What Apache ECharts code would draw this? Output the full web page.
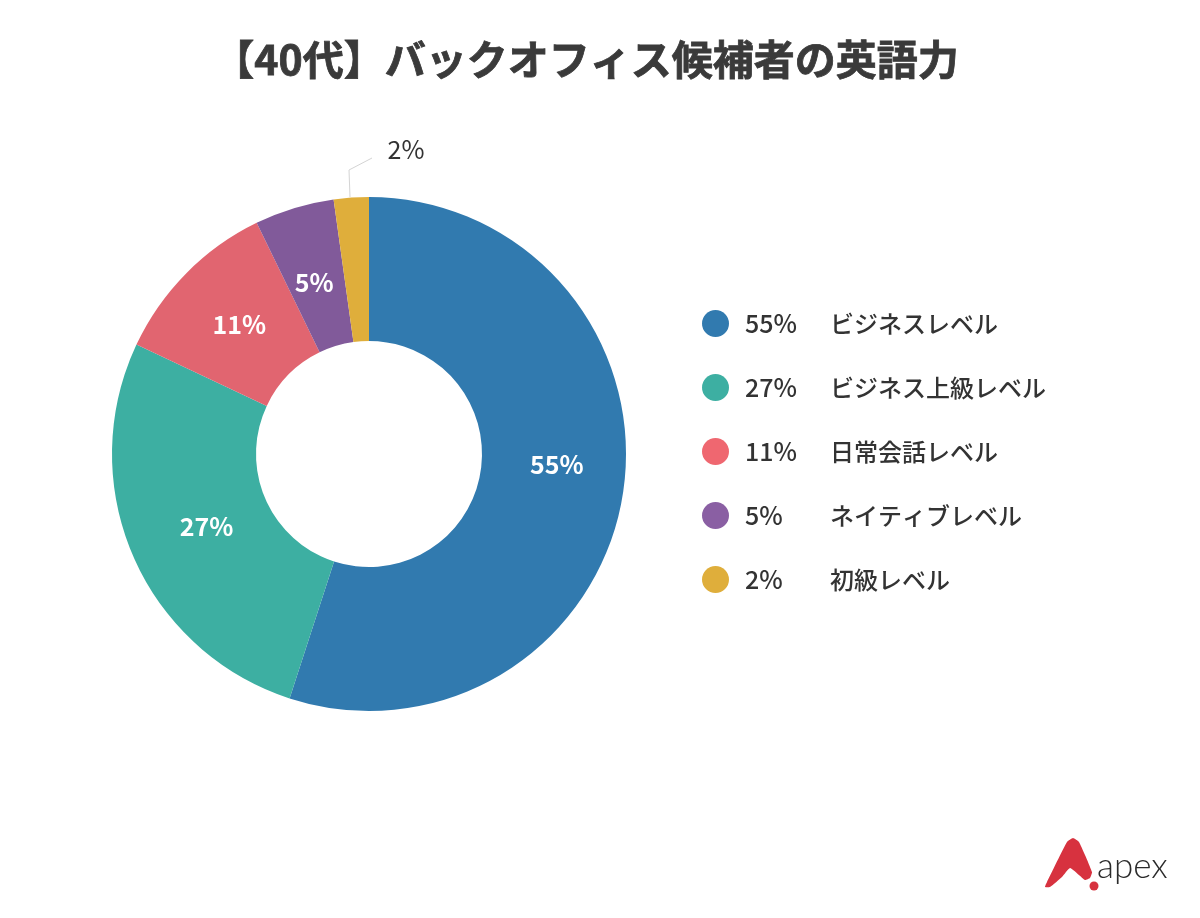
<!DOCTYPE html>
<html>
<head>
<meta charset="utf-8">
<script src="https://cdn.jsdelivr.net/npm/echarts@6/dist/echarts.min.js"></script>
<style>
  html, body { margin: 0; padding: 0; background: #fff; }
  #chart { width: 1200px; height: 918px; }
</style>
</head>
<body>
<div id="chart"></div>
<script>
const titleText = '【40代】バックオフィス候補者の英語力';
const levels = ['ビジネスレベル', 'ビジネス上級レベル', '日常会話レベル', 'ネイティブレベル', '初級レベル'];
// slice sizes as measured on the picture, printed rounded
const shares = [55, 27, 10.8, 5, 2.2];
const sliceColors = ['#317AAF', '#3DAFA2', '#E16570', '#815A9A', '#DFAE3B'];
const legendColors = ['#317AAF', '#3DAFA2', '#EF6770', '#8A5FA3', '#DFAE3B'];

const fontFamily = '"Noto Sans CJK JP", "Noto Sans", sans-serif';
const chart = echarts.init(document.getElementById('chart'));

const option = {
  animation: false,
  backgroundColor: '#fff',
  textStyle: { fontFamily: fontFamily },
  title: {
    text: titleText,
    left: 581,
    top: 34,
    textAlign: 'center',
    textStyle: {
      fontFamily: fontFamily, fontSize: 41, fontWeight: 'bold', color: '#3a3a3a',
      textBorderColor: '#3a3a3a', textBorderWidth: 0.8
    }
  },
  legend: {
    orient: 'vertical',
    left: 697,
    top: 305,
    icon: 'circle',
    itemWidth: 27,
    itemHeight: 27,
    itemGap: 37,
    selectedMode: false,
    data: levels.map((name, i) => ({ name: name, itemStyle: { color: legendColors[i] } })),
    formatter: function (name) {
      return '{pct|' + Math.round(shares[levels.indexOf(name)]) + '%}{name|' + name + '}';
    },
    textStyle: {
      rich: {
        pct: { width: 85, padding: [0, 0, 0, 11], fontSize: 25, fontWeight: 500, color: '#333', fontFamily: fontFamily, lineHeight: 27 },
        name: { fontSize: 24, fontWeight: 500, color: '#333', fontFamily: fontFamily, lineHeight: 27 }
      }
    }
  },
  series: [
    {
      type: 'pie',
      center: [369, 454],
      radius: [113, 257],
      startAngle: 90,
      clockwise: true,
      minAngle: 0,
      avoidLabelOverlap: false,
      legendHoverLink: false,
      data: levels.map((name, i) => ({
        name: name,
        value: shares[i],
        itemStyle: { color: sliceColors[i] },
        label: i === 4
          ? { position: 'outside', color: '#333', fontWeight: 400, fontSize: 25 }
          : { position: 'inside', color: '#fff', fontWeight: 'bold', fontSize: 25 },
        labelLine: i === 4
          ? { show: true, length: 27, length2: 25, lineStyle: { color: '#d4d4d4', width: 1 } }
          : { show: false }
      })),
      label: {
        formatter: function (params) {
          return Math.round(params.value) + '%';
        },
        fontFamily: fontFamily
      },
      labelLayout: function (params) {
        if (params.dataIndex === 0) {
          return { dx: 2, dy: -19 };
        }
        if (params.dataIndex === 1) {
          return { dx: 10, dy: -2 };
        }
        if (params.dataIndex === 2) {
          return { dx: 4, dy: 3 };
        }
        if (params.dataIndex === 3) {
          return { dx: 0, dy: 8 };
        }
        if (params.dataIndex === 4) {
          return {
            x: 406,
            y: 149,
            align: 'center',
            verticalAlign: 'middle',
            labelLinePoints: [[350, 197], [349, 170], [372, 158]]
          };
        }
      }
    }
  ],
  // apex logo
  graphic: [
    {
      type: 'polygon',
      shape: {
        points: [[1073, 838], [1079, 842], [1092, 872], [1090, 878], [1085, 880], [1079, 875], [1070, 868], [1062, 877], [1050, 887], [1045, 887], [1047, 882], [1067, 842]],
        smooth: 0.15
      },
      style: { fill: '#D7323F' }
    },
    { type: 'circle', shape: { cx: 1094, cy: 886, r: 4.5 }, style: { fill: '#D7323F' } },
    {
      type: 'text',
      left: 1097,
      top: 849,
      style: { text: 'apex', font: '300 35px Lato, "Noto Sans", sans-serif', fill: '#2b2b2b' }
    }
  ]
};

chart.setOption(option);
</script>
</body>
</html>
